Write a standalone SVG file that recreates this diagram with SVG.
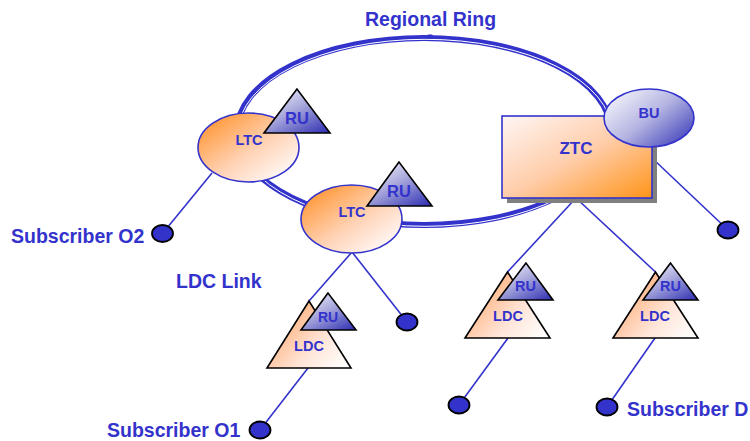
<svg xmlns="http://www.w3.org/2000/svg" width="750" height="441" viewBox="0 0 750 441">
  <defs>
    <linearGradient id="gOrange" x1="0.12" y1="0.12" x2="0.88" y2="0.88">
      <stop offset="0" stop-color="#FF9A3C"/>
      <stop offset="0.55" stop-color="#FFD2B4"/>
      <stop offset="1" stop-color="#FFF8F6"/>
    </linearGradient>
    <linearGradient id="gLdc" x1="0" y1="0.2" x2="1" y2="0.9">
      <stop offset="0" stop-color="#FFA060"/>
      <stop offset="0.6" stop-color="#FFE4D6"/>
      <stop offset="1" stop-color="#FFFFFF"/>
    </linearGradient>
    <linearGradient id="gZtc" x1="0" y1="0" x2="1" y2="1">
      <stop offset="0" stop-color="#FFF6F4"/>
      <stop offset="0.5" stop-color="#FFCDAA"/>
      <stop offset="1" stop-color="#FF9418"/>
    </linearGradient>
    <linearGradient id="gBlue" x1="0.15" y1="0" x2="0.95" y2="1">
      <stop offset="0" stop-color="#F2F2FB"/>
      <stop offset="0.45" stop-color="#A6A6DC"/>
      <stop offset="1" stop-color="#3030B4"/>
    </linearGradient>
    <linearGradient id="gBu" x1="0" y1="0.1" x2="1" y2="0.9">
      <stop offset="0" stop-color="#FAFAFE"/>
      <stop offset="0.5" stop-color="#B4B4E2"/>
      <stop offset="1" stop-color="#3A3ABA"/>
    </linearGradient>
  </defs>
  <style>
    .lbl { font-family: "Liberation Sans", Arial, sans-serif; font-weight: bold; fill: #3333CC; }
    .big { font-size: 19.5px; }
    .mid { text-anchor: middle; }
    .link { stroke: #3333CC; stroke-width: 1.6; fill: none; }
    .edge { stroke: #3333CC; stroke-width: 1.6; }
    .tri { stroke: #000000; stroke-width: 1.6; stroke-linejoin: miter; }
    .dot { fill: #3333CC; stroke: #000000; stroke-width: 1.8; }
  </style>

  <rect width="750" height="441" fill="#FFFFFF"/>

  <!-- regional ring: thick band with a thin white seam -->
  <g id="regional-ring">
    <ellipse cx="424" cy="131.5" rx="187" ry="93.5" fill="none" stroke="#3333CC" stroke-width="6"/>
    <ellipse cx="425" cy="132.8" rx="187" ry="93.5" fill="none" stroke="#FFFFFF" stroke-width="1"/>
    <path d="M425 38.5 L428 34.5 L432 34.5 L435 38.5 Z" fill="#3333CC"/>
    <text class="lbl big" x="365" y="26">Regional Ring</text>
  </g>

  <!-- links -->
  <g id="connectors">
    <line class="link" x1="212" y1="173" x2="162.5" y2="233.5"/>
    <line class="link" x1="352" y1="252" x2="309" y2="301"/>
    <line class="link" x1="352" y1="252" x2="407" y2="322"/>
    <line class="link" x1="308" y1="368" x2="260" y2="430"/>
    <line class="link" x1="576" y1="198" x2="507.5" y2="272"/>
    <line class="link" x1="576" y1="198" x2="655.5" y2="272"/>
    <line class="link" x1="508" y1="338" x2="459" y2="405"/>
    <line class="link" x1="655" y1="338" x2="607" y2="407"/>
    <line class="link" x1="652" y1="158" x2="728" y2="230"/>
  </g>

  <g id="ltc-1">
    <ellipse cx="248.5" cy="147.5" rx="50.5" ry="34.5" fill="url(#gOrange)" class="edge"/>
    <text class="lbl mid" x="249" y="145" font-size="14.5">LTC</text>
  </g>
  <g id="ru-1">
    <polygon class="tri" points="297,89 264,133 330,133" fill="url(#gBlue)"/>
    <text class="lbl mid" x="297" y="124" font-size="16.5">RU</text>
  </g>

  <g id="ltc-2">
    <ellipse cx="351.5" cy="219" rx="50.5" ry="34" fill="url(#gOrange)" class="edge"/>
    <text class="lbl mid" x="352" y="217" font-size="14.5">LTC</text>
  </g>
  <g id="ru-2">
    <polygon class="tri" points="399,162 367,206 432,206" fill="url(#gBlue)"/>
    <text class="lbl mid" x="399" y="197" font-size="16.5">RU</text>
  </g>

  <g id="ztc">
    <rect x="507" y="121" width="150" height="82" fill="#808080"/>
    <rect x="502" y="116" width="150" height="82" fill="url(#gZtc)" class="edge"/>
    <text class="lbl mid" x="576" y="154" font-size="17">ZTC</text>
  </g>
  <g id="bu">
    <ellipse cx="649" cy="118" rx="45" ry="29" fill="url(#gBu)" class="edge"/>
    <text class="lbl mid" x="649" y="118" font-size="14.5">BU</text>
  </g>

  <g id="ldc-1">
    <polygon class="tri" points="309,301 267,368 351,368" fill="url(#gLdc)"/>
    <text class="lbl mid" x="309" y="351" font-size="14.5">LDC</text>
  </g>
  <g id="ru-3">
    <polygon class="tri" points="328,293 301,330 356,330" fill="url(#gBlue)"/>
    <text class="lbl mid" x="328" y="322" font-size="14">RU</text>
  </g>

  <g id="ldc-2">
    <polygon class="tri" points="507.5,272 465,338 550,338" fill="url(#gLdc)"/>
    <text class="lbl mid" x="508" y="321" font-size="14.5">LDC</text>
  </g>
  <g id="ru-4">
    <polygon class="tri" points="526,263 498,300 553,300" fill="url(#gBlue)"/>
    <text class="lbl mid" x="525.5" y="291" font-size="14.5">RU</text>
  </g>

  <g id="ldc-3">
    <polygon class="tri" points="655.5,272 613,338 698,338" fill="url(#gLdc)"/>
    <text class="lbl mid" x="655" y="321" font-size="14.5">LDC</text>
  </g>
  <g id="ru-5">
    <polygon class="tri" points="670.5,263 643,300 698,300" fill="url(#gBlue)"/>
    <text class="lbl mid" x="670.5" y="291" font-size="14.5">RU</text>
  </g>

  <!-- subscriber terminals -->
  <g id="sub-o2">
    <ellipse class="dot" cx="162.5" cy="233.5" rx="10.5" ry="8.5"/>
    <text class="lbl big" x="11" y="243">Subscriber O2</text>
  </g>
  <g id="sub-ltc2">
    <ellipse class="dot" cx="407" cy="322" rx="10.5" ry="8.5"/>
  </g>
  <g id="sub-o1">
    <ellipse class="dot" cx="260" cy="430" rx="10.5" ry="8.5"/>
    <text class="lbl big" x="107" y="437">Subscriber O1</text>
  </g>
  <g id="sub-ldc2">
    <ellipse class="dot" cx="459" cy="405" rx="10.5" ry="8.5"/>
  </g>
  <g id="sub-d">
    <ellipse class="dot" cx="607" cy="407" rx="10.5" ry="8.5"/>
    <text class="lbl big" x="627" y="416">Subscriber D</text>
  </g>
  <g id="sub-bu">
    <ellipse class="dot" cx="728" cy="230" rx="10.5" ry="8.5"/>
  </g>

  <g id="ldc-link-label">
    <text class="lbl big" x="176" y="288">LDC Link</text>
  </g>
</svg>
